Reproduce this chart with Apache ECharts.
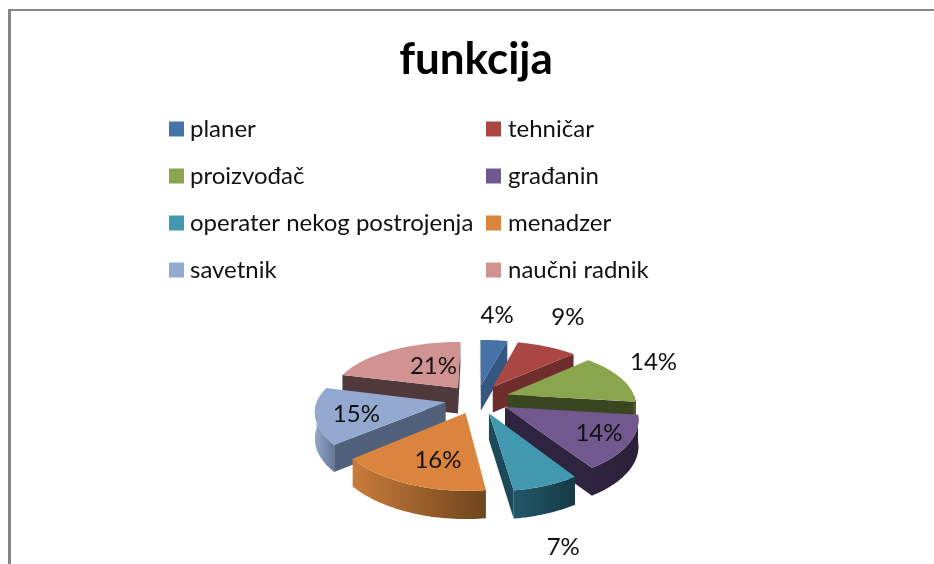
<!DOCTYPE html>
<html>
<head>
<meta charset="utf-8">
<style>html,body{margin:0;padding:0;background:#fff}#c{width:934px;height:564px}</style>
<script src="https://cdn.jsdelivr.net/npm/echarts@6/dist/echarts.min.js"></script>
</head>
<body>
<div id="c"></div>
<script>
const titleText = 'funkcija';
const categories = ['planer','tehničar','proizvođač','građanin','operater nekog postrojenja','menadzer','savetnik','naučni radnik'];
const values = [4,9,14,14,7,16,15,21];
const labels = ['4%','9%','14%','14%','7%','16%','15%','21%'];
const leftLegend = ['planer','proizvođač','operater nekog postrojenja','savetnik'];
const rightLegend = ['tehničar','građanin','menadzer','naučni radnik'];

const topColors  = ['#4572a7','#aa4643','#89a54e','#71588f','#4198af','#db843d','#93a9cf','#d19392'];
const cutColors  = ['#34577f','#6f2d2b','#3a4620','#2e2440','#1d4a58','#7a4a20','#52617b','#50393a'];
const wallFrom   = ['#34577f','#6f2d2b','#5a6c33','#2e2440','#215867','#c97c3a','#93a7c8','#8a6160'];
const wallTo     = ['#34577f','#6f2d2b','#3a4620','#2a2038','#173a46','#6f441d','#67799a','#50393a'];
const labelNudge = [[8,-41],[41,-44],[77,-22],[22,5],[42,94],[4,8],[-12,4],[17,2]];

const CX=477, CY=399, RX=128, KY=58, PY=0.18, PX=0.15, SKEW=3, DEPTH=26, EXPLODE=0.25;
const total = values.reduce((a,b)=>a+b,0);
const starts = values.map((_,i)=>values.slice(0,i).reduce((a,b)=>a+b,0)/total*Math.PI*2);
const mids = values.map((v,i)=>starts[i]+v/total*Math.PI);

function proj(t,r,mid,drop){
  const X=EXPLODE*Math.sin(mid)+r*Math.sin(t);
  const Y=-EXPLODE*Math.cos(mid)-r*Math.cos(t);
  const y=CY+KY*Y/(1-PY*Y), x=CX+RX*X/(1-PX*Y)+SKEW*Math.max(Y,0);
  return [x, y+(drop?DEPTH*(1+0.07*Y):0)];
}
function area(p){let s=0;for(let i=0;i<p.length;i++){const a=p[i],b=p[(i+1)%p.length];s+=a[0]*b[1]-b[0]*a[1];}return s;}
const poly=(pts,fill)=>({type:'polygon',shape:{points:pts},style:{fill:fill,stroke:null}});

function renderSlice(i){
  return function(params,api){
    const share=api.value(0)/total*Math.PI*2, a0=starts[i], a1=a0+share, mid=mids[i];
    const kids=[];
    const quad=(t)=>[proj(t,0,mid,false),proj(t,1,mid,false),proj(t,1,mid,true),proj(t,0,mid,true)];
    const qs=quad(a0), qe=quad(a1);
    if(area(qs)<0) kids.push(poly(qs,cutColors[i]));
    if(area(qe)>0) kids.push(poly(qe,cutColors[i]));
    const w0=Math.max(a0,Math.PI/2), w1=Math.min(a1,Math.PI*1.5);
    if(w1>w0){
      const n=40, upper=[], lower=[];
      for(let k=0;k<=n;k++){const t=w0+(w1-w0)*k/n;upper.push(proj(t,1,mid,false));lower.unshift(proj(t,1,mid,true));}
      kids.push(poly(upper.concat(lower),{type:'linear',x:0,y:0,x2:1,y2:0,colorStops:[{offset:0,color:wallFrom[i]},{offset:1,color:wallTo[i]}]}));
    }
    const face=[proj(a0,0,mid,false)];
    for(let k=0;k<=40;k++) face.push(proj(a0+share*k/40,1,mid,false));
    kids.push(poly(face,topColors[i]));
    const base=proj(mid,0.6,mid,false);
    kids.push({type:'text',z2:50,style:{text:labels[i],x:base[0]+labelNudge[i][0],y:base[1]+labelNudge[i][1],
      align:'center',verticalAlign:'middle',font:'24px Lato',fill:'#111'}});
    return {type:'group',children:kids};
  };
}
const order=mids.map((m,i)=>[-Math.cos(m),i]).sort((a,b)=>a[0]-b[0]).map(d=>d[1]);

const legendBase={orient:'vertical',icon:'rect',itemWidth:15,itemHeight:15,itemGap:23,top:112};
const legendText=(pad)=>({fontFamily:'Lato',fontSize:24,color:'#111',padding:[0,0,0,pad]});

const chart=echarts.init(document.getElementById('c'),null,{renderer:'canvas'});
chart.setOption({
  animation:false,
  backgroundColor:'#fff',
  title:{text:titleText,left:471,top:33,textAlign:'center',textStyle:{fontFamily:'Lato',fontSize:44,fontWeight:'bold',color:'#000'}},
  legend:[
    Object.assign({},legendBase,{data:leftLegend,left:164,textStyle:legendText(1)}),
    Object.assign({},legendBase,{data:rightLegend,left:481,textStyle:legendText(2)})
  ],
  graphic:[
    {type:'rect',shape:{x:8,y:9,width:3,height:555},style:{fill:'#868686'}},
    {type:'rect',shape:{x:8,y:9,width:926,height:2},style:{fill:'#868686'}}
  ],
  series:categories.map((name,i)=>({
    type:'custom',name:name,coordinateSystem:'none',
    z:2+order.indexOf(i),silent:true,
    itemStyle:{color:topColors[i]},
    data:[[values[i]]],
    renderItem:renderSlice(i)
  }))
});
</script>
</body>
</html>
